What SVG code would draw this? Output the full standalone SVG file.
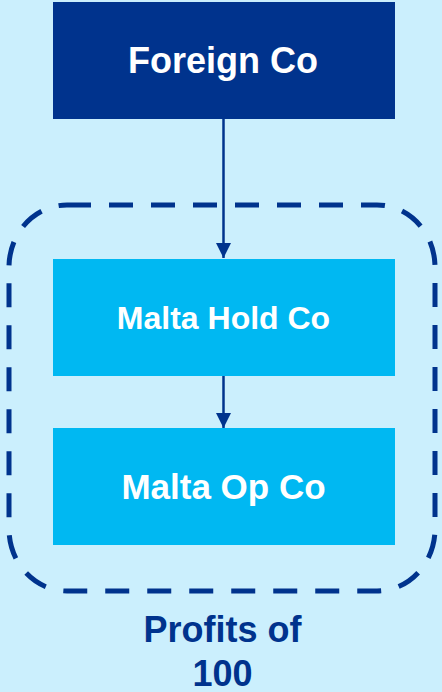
<svg xmlns="http://www.w3.org/2000/svg" width="442" height="692" viewBox="0 0 442 692">
<defs>
<style>
.t{font-family:"Liberation Sans",Arial,sans-serif;font-weight:bold;text-anchor:middle}
.w{fill:#ffffff}
.n{fill:#00338d}
.conn{stroke:#00338d;stroke-width:2.5;fill:none}
</style>
<marker id="ah" markerWidth="15" markerHeight="15" refX="15" refY="7.5" orient="auto" markerUnits="userSpaceOnUse">
<path d="M0,0 L15,7.5 L0,15 Z" fill="#00338d"/>
</marker>
</defs>
<rect x="0" y="0" width="442" height="692" fill="#cbeffd"/>
<g id="group-boundary">
<rect x="9" y="205" width="426" height="386" rx="58" ry="62" fill="none" stroke="#00338d" stroke-width="5" stroke-dasharray="24 18"/>
</g>
<g id="foreign-co">
<rect x="53" y="2" width="342" height="117" fill="#00338d"/>
<text class="t w" x="223" y="73" font-size="36">Foreign Co</text>
</g>
<g id="malta-hold-co">
<rect x="53" y="259" width="342" height="117" fill="#00b8f2"/>
<text class="t w" x="223.5" y="329" font-size="32">Malta Hold Co</text>
</g>
<g id="malta-op-co">
<rect x="53" y="428" width="342" height="117" fill="#00b8f2"/>
<text class="t w" x="223.5" y="499" font-size="35">Malta Op Co</text>
</g>
<g id="profits-label">
<text class="t n" x="222.5" y="642" font-size="36">Profits of</text>
<text class="t n" x="222.5" y="686" font-size="36">100</text>
</g>
<g id="connectors">
<line class="conn" x1="223.5" y1="119" x2="223.5" y2="258" marker-end="url(#ah)"/>
<line class="conn" x1="223.5" y1="376" x2="223.5" y2="428" marker-end="url(#ah)"/>
</g>
</svg>
